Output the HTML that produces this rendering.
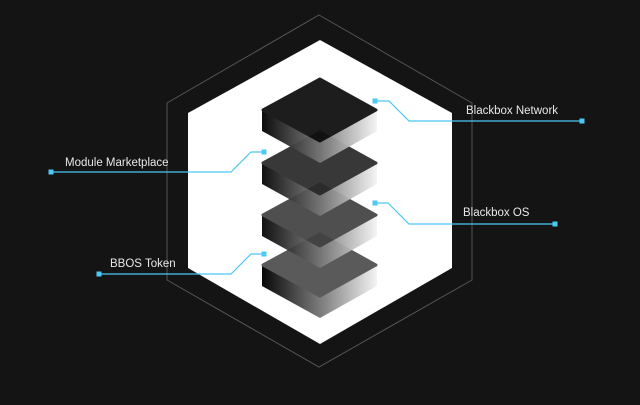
<!DOCTYPE html>
<html><head><style>
html,body{margin:0;padding:0;background:#141414;}
svg{display:block;}
text{font-family:"Liberation Sans",sans-serif;font-size:11.5px;fill:#e8e8e8;}
</style></head><body>
<svg width="640" height="405" viewBox="0 0 640 405" xmlns="http://www.w3.org/2000/svg">
<defs>
<linearGradient id="gl" x1="0" x2="1" y1="0" y2="0"><stop offset="0" stop-color="#000"/><stop offset="1" stop-color="#777"/></linearGradient>
<linearGradient id="gr" x1="0" x2="1" y1="0" y2="0"><stop offset="0" stop-color="#777"/><stop offset="1" stop-color="#f4f4f4"/></linearGradient>
</defs>
<rect width="640" height="405" fill="#141414"/>
<polygon points="319,15 472,103 472,280 319,367 167,280 167,103" fill="none" stroke="#555" stroke-width="1"/>
<polygon points="320,40 452,113 452,268 320,344 188,268 188,113" fill="#fff"/>
<g stroke-linejoin="round">
<g opacity="0.97">
<polygon points="262,265 320,297 320,318 262,286" fill="url(#gl)"/>
<polygon points="320,297 377,265 377,286 320,318" fill="url(#gr)"/>
<polygon points="320,234 376,265 320,296 263,265" fill="#555" stroke="#555" stroke-width="3"/>
</g>
<g opacity="0.93">
<polygon points="262,215 320,247 320,268 262,236" fill="url(#gl)"/>
<polygon points="320,247 377,215 377,236 320,268" fill="url(#gr)"/>
<polygon points="320,184 376,215 320,246 263,215" fill="#424242" stroke="#424242" stroke-width="3"/>
</g>
<g opacity="0.93">
<polygon points="262,163 320,195 320,216 262,184" fill="url(#gl)"/>
<polygon points="320,195 377,163 377,184 320,216" fill="url(#gr)"/>
<polygon points="320,132 376,163 320,194 263,163" fill="#2a2a2a" stroke="#2a2a2a" stroke-width="3"/>
</g>
<g opacity="0.95">
<polygon points="262,110 320,142 320,163 262,131" fill="url(#gl)"/>
<polygon points="320,142 377,110 377,131 320,163" fill="url(#gr)"/>
<polygon points="320,79 376,110 320,141 263,110" fill="#111" stroke="#111" stroke-width="3"/>
</g>
</g>
<g stroke="#4cc8f4" stroke-width="1.2" fill="none">
<polyline points="375,101 389,101 409,121 582,121"/>
<polyline points="51,172 231,172 251,152 264,152"/>
<polyline points="375,203 388,203 409,224 555,224"/>
<polyline points="99,274 231,274 251,254 264,254"/>
</g>
<g fill="#4cc8f4">
<rect x="372.5" y="98.5" width="5" height="5"/><rect x="579.5" y="118.5" width="5" height="5"/>
<rect x="48.5" y="169.5" width="5" height="5"/><rect x="261.5" y="149.5" width="5" height="5"/>
<rect x="372.5" y="200.5" width="5" height="5"/><rect x="552.5" y="221.5" width="5" height="5"/>
<rect x="96.5" y="271.5" width="5" height="5"/><rect x="261.5" y="251.5" width="5" height="5"/>
</g>
<text x="466" y="114">Blackbox Network</text>
<text x="65" y="166">Module Marketplace</text>
<text x="463" y="216">Blackbox OS</text>
<text x="110" y="267">BBOS Token</text>
</svg>
</body></html>
